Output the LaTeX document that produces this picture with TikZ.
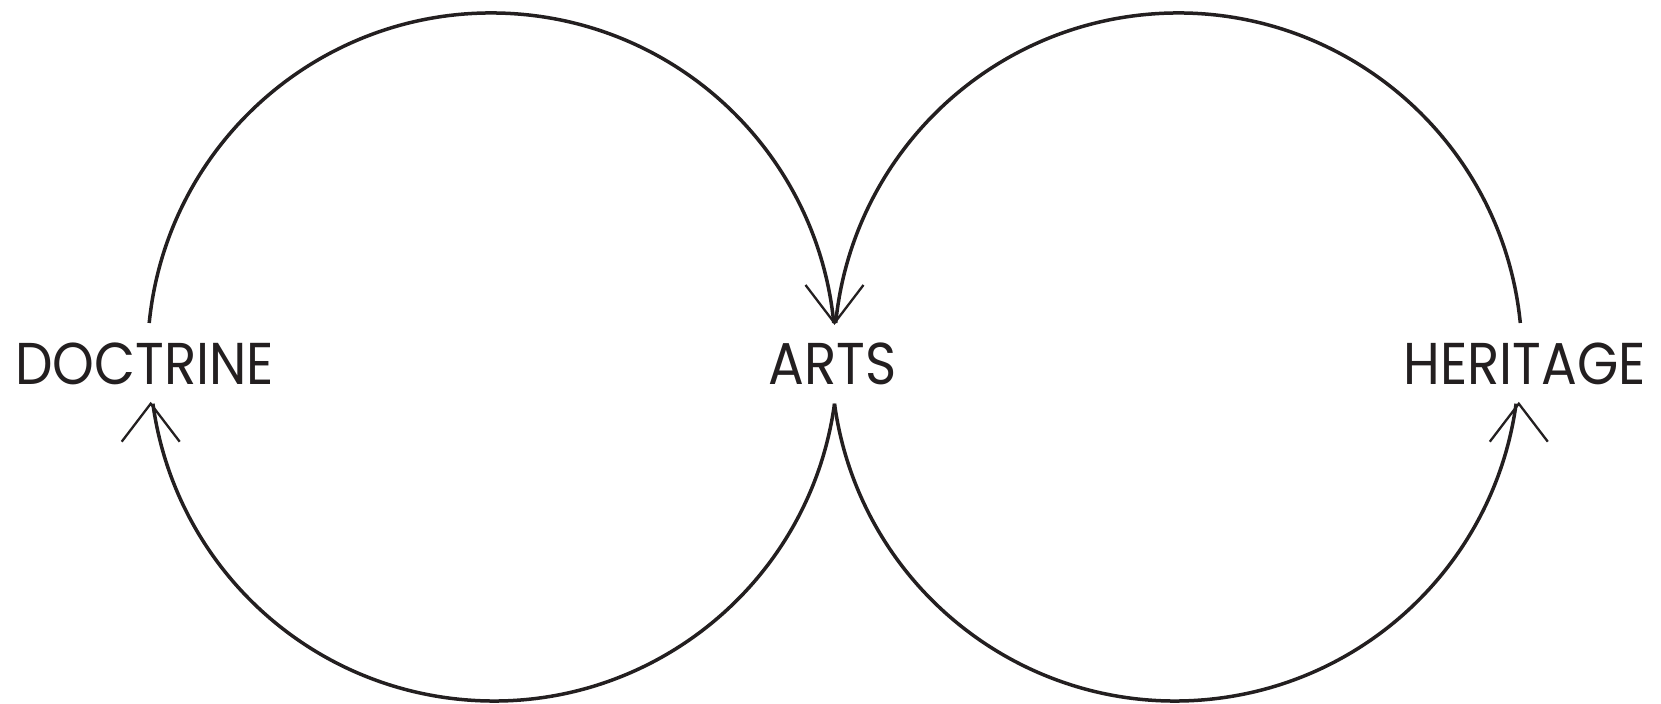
\documentclass[tikz,border=0pt]{standalone}
\usepackage{fontspec}
\setmainfont{Poppins}[FakeStretch=0.9]
\begin{document}
\begin{tikzpicture}[x=0.5pt,y=0.5pt,
  conn/.style={line width=1.75pt,draw={rgb,255:red,35;green,31;blue,32}},
  tip/.style={line width=1.15pt,draw={rgb,255:red,35;green,31;blue,32}},
  lbl/.style={font=\fontsize{29.5}{30}\selectfont,text={rgb,255:red,35;green,31;blue,32},inner sep=0pt,anchor=center}]
\useasboundingbox (0,0) rectangle (1661,704);
\node[lbl] (doctrine) at (144.5,340) {DOCTRINE};
\node[lbl] (arts) at (832.6,340) {ARTS};
\node[lbl] (heritage) at (1524.5,340) {HERITAGE};
% arc ends
\coordinate (dU) at (149.2,381);
\coordinate (aU) at (834.5,381);
\coordinate (hU) at (1520.3,381);
\coordinate (dL) at (150.7,300.3);
\coordinate (aL) at (834.5,300.3);
\coordinate (hL) at (1518.8,300.3);
% upper arcs
\draw[conn] (dU) arc[start angle=174.33,end angle=5.67,radius=172pt];
\draw[conn] (hU) arc[start angle=5.67,end angle=174.33,radius=172pt];
% lower arcs
\draw[conn] (aL) arc[start angle=-7.8,end angle=-172.2,radius=172pt];
\draw[conn] (aL) arc[start angle=187.8,end angle=352.2,radius=172pt];
% arrowheads
\draw[tip] (aU) ++(-29,38) -- (aU) -- ++(29,38);
\draw[tip] (dL) ++(-29,-38) -- (dL) -- ++(29,-38);
\draw[tip] (hL) ++(-29,-38) -- (hL) -- ++(29,-38);
\end{tikzpicture}
\end{document}
